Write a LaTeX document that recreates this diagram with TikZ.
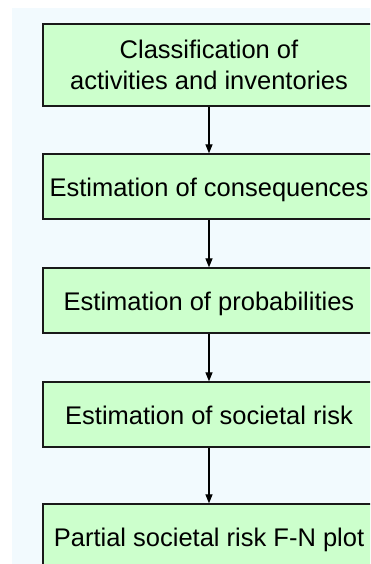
\documentclass[tikz,border=0pt]{standalone}
\usepackage{fontspec}
\setmainfont{Liberation Sans}
\usetikzlibrary{arrows.meta}
\definecolor{panelbg}{HTML}{F2FAFE}
\definecolor{boxfill}{HTML}{CCFFCC}
\begin{document}
\begin{tikzpicture}[x=1pt,y=-1pt,
  stepbox/.style={draw=black!90, line width=1.3pt, fill=boxfill,
    minimum width=332pt, minimum height=65pt, inner sep=0pt,
    font=\fontsize{25.5}{31}\selectfont},
  oneline/.style={text height=19pt, text depth=0pt},
  flow/.style={line width=1.2pt, -{Triangle[width=7pt,length=9pt]}}]
  \useasboundingbox (0,0) rectangle (370,564);
  \clip (0,0) rectangle (370,564);
  % panel background
  \fill[panelbg] (12,8) rectangle (372,566);
  % process steps
  \node[stepbox, minimum height=82pt, align=center] (s1) at (209,65)
    {Classification of\\activities and inventories};
  \node[stepbox, oneline] (s2) at (209,186.5) {Estimation of consequences};
  \node[stepbox, oneline] (s3) at (209,300.5) {Estimation of probabilities};
  \node[stepbox, oneline] (s4) at (209,414.5) {Estimation of societal risk};
  \node[stepbox, oneline] (s5) at (209,536.5) {Partial societal risk F-N plot};
  % connectors
  \draw[flow] (s1) -- (s2);
  \draw[flow] (s2) -- (s3);
  \draw[flow] (s3) -- (s4);
  \draw[flow] (s4) -- (s5);
\end{tikzpicture}
\end{document}
